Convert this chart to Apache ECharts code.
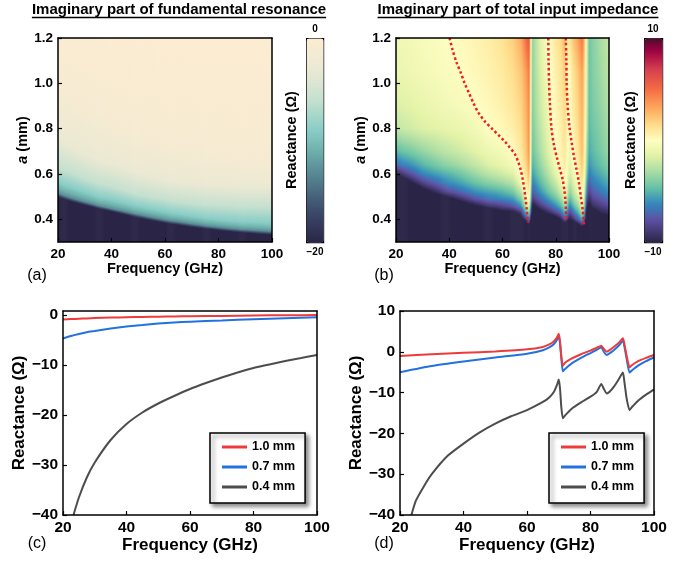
<!DOCTYPE html>
<html><head><meta charset="utf-8">
<script src="https://cdn.jsdelivr.net/npm/echarts@6/dist/echarts.min.js"></script>
<style>html,body{margin:0;padding:0;background:#fff}#c{width:694px;height:566px}</style>
</head><body><div id="c"></div>
<script>
// ================= DATA =================
// (a) Imaginary part of fundamental resonance, read as contour lines:
// value at the top edge (a = 1.2 mm) and the a (mm) where each reactance level is reached, per frequency
const fundFreq = [20,25,30,35,40,45,50,55,60,65,70,75,80,85,90,95,100];
const fundTop  = [-0.5,-0.42,-0.35,-0.3,-0.25,-0.2,-0.15,-0.1,-0.07,-0.05,-0.03,-0.02,0,0,0,0,0];
const fundLevels = [-1,-3,-6,-9,-11,-13,-20];
const fundLevelA = [
 [1.0,0.95,0.91,0.87,0.83,0.8,0.78,0.76,0.74,0.725,0.71,0.7,0.69,0.68,0.665,0.655,0.645],
 [0.76,0.72,0.69,0.665,0.645,0.625,0.605,0.59,0.575,0.565,0.56,0.555,0.55,0.548,0.545,0.543,0.54],
 [0.632,0.605,0.58,0.56,0.545,0.525,0.51,0.498,0.488,0.478,0.47,0.465,0.46,0.458,0.456,0.455,0.455],
 [0.565,0.54,0.52,0.5,0.487,0.472,0.458,0.445,0.434,0.423,0.414,0.405,0.398,0.393,0.389,0.386,0.383],
 [0.535,0.513,0.494,0.477,0.463,0.449,0.436,0.424,0.413,0.403,0.394,0.386,0.379,0.373,0.368,0.364,0.36],
 [0.515,0.494,0.477,0.461,0.447,0.434,0.421,0.409,0.398,0.389,0.38,0.372,0.365,0.359,0.354,0.35,0.346],
 [0.497,0.478,0.462,0.447,0.434,0.42,0.406,0.394,0.383,0.374,0.365,0.358,0.351,0.345,0.34,0.335,0.331]
];

// (b) Imaginary part of total input impedance: one column per frequency, values at totalA rows
const totalFreq = [20,25,30,35,40,45,50,55,60,64,67,69,70,70.6,71.2,72,74,77,80,82,83.5,84.3,85.2,86.5,88.5,90,90.8,91.6,92.5,94,97,100];
const totalA = [1.2,1.05,0.9,0.8,0.7,0.64,0.6,0.56,0.52,0.49,0.46,0.43,0.40,0.37,0.34,0.30];
const totalX = [
 [-0.8,-1.1,-1.7,-2.4,-4.9,-7.0,-10.0,-13,-17,-21,-25,-30,-40,-50,-60,-70],
 [-0.6,-0.85,-1.4,-2.0,-4.2,-6.0,-8.0,-10.5,-14,-17,-21,-25,-36,-44,-52,-62],
 [-0.4,-0.6,-1.1,-1.6,-3.5,-5.0,-6.3,-8.5,-11,-14,-17,-21,-30,-36,-45,-55],
 [-0.2,-0.4,-0.85,-1.4,-2.9,-4.2,-5.6,-7.2,-9.5,-12,-15,-19,-25.5,-32,-40,-50],
 [0.0,-0.2,-0.6,-1.2,-2.4,-3.6,-5.0,-6.1,-8.0,-10.5,-13,-17,-22.5,-28,-35,-45],
 [0.2,0.0,-0.4,-0.95,-1.9,-3.0,-4.2,-5.4,-7.0,-9.0,-11.5,-15,-20,-25,-31,-40],
 [0.45,0.25,-0.05,-0.6,-1.4,-2.3,-3.3,-4.5,-6.0,-7.6,-10,-13,-17.5,-22,-27,-35],
 [0.75,0.55,0.25,-0.05,-0.9,-1.6,-2.6,-3.9,-5.6,-6.8,-9.0,-11.8,-15.8,-20,-25,-32],
 [1.2,0.9,0.6,0.25,-0.5,-1.1,-2.0,-3.3,-5.0,-6.2,-8.2,-10.5,-14.3,-18,-22,-28],
 [2.0,1.5,1.1,0.7,0.1,-0.6,-1.5,-2.7,-4.3,-5.8,-7.5,-10.5,-12.6,-16,-20,-26],
 [3.2,2.3,1.8,1.4,1.0,0.5,0.0,-1.0,-2.5,-4.0,-6.0,-9.0,-11,-14,-18,-24],
 [5.2,3.6,3.0,2.7,2.3,1.8,1.3,0.7,0.2,-0.5,-2.0,-4.5,-8.5,-12,-16,-22],
 [6.0,4.8,4.3,4.1,3.9,3.4,2.8,2.0,1.0,0.0,-1.5,-3.5,-6.7,-11,-15,-21],
 [1.0,0.3,0.0,-0.2,-0.5,-0.8,-1.2,-1.8,-2.6,-3.5,-5.0,-7.0,-10,-13,-17,-23],
 [-3.8,-3.9,-4.1,-4.3,-4.7,-5.2,-5.8,-6.6,-7.6,-8.8,-10.5,-12.5,-16.3,-20,-24,-30],
 [-3.0,-3.1,-3.3,-3.6,-4.0,-4.6,-5.2,-6.0,-7.0,-8.2,-10.0,-12,-15.8,-19.5,-23.5,-29],
 [-1.6,-1.8,-2.1,-2.5,-3.0,-3.6,-4.2,-5.0,-6.0,-7.2,-8.8,-10.8,-14.2,-18,-22,-28],
 [-0.1,-0.5,-0.9,-1.2,-1.6,-2.2,-2.8,-3.6,-4.6,-5.8,-7.4,-9.6,-12.6,-16.5,-20.5,-26],
 [1.0,0.6,0.35,0.15,-0.2,-0.7,-1.3,-2.2,-3.3,-4.5,-6.0,-8.2,-11.2,-15,-19,-25],
 [1.6,1.2,0.9,0.7,0.5,0.2,-0.1,-0.9,-2.0,-3.2,-4.8,-7.0,-9.8,-13.5,-17.5,-23],
 [3.0,2.0,1.6,1.4,1.1,0.9,0.6,0.1,-0.6,-1.6,-3.0,-5.0,-7.9,-11.5,-15.5,-21],
 [0.3,0.4,0.5,0.5,0.2,-0.1,-0.5,-1.0,-1.8,-2.8,-4.2,-6.2,-9.0,-12.5,-16.5,-22],
 [1.2,0.1,-0.1,-0.3,-0.8,-1.3,-1.9,-2.7,-3.7,-4.9,-6.4,-8.2,-10.2,-14,-18,-24],
 [2.2,1.2,0.9,0.5,0.0,-0.5,-1.0,-1.7,-2.6,-3.6,-5.0,-7.0,-9.3,-13,-17,-23],
 [3.5,2.3,1.9,1.6,1.3,0.8,0.3,-0.1,-0.9,-1.9,-3.2,-5.0,-7.3,-11,-15,-21],
 [4.8,3.5,3.0,2.8,2.6,2.2,1.8,1.2,0.6,0.0,-0.8,-2.5,-5.3,-9.5,-14,-20],
 [2.5,1.6,1.3,1.0,0.6,0.2,-0.2,-0.8,-1.5,-2.3,-3.3,-5.0,-8.0,-11.5,-15.5,-21],
 [-1.2,-1.4,-1.7,-2.2,-3.0,-3.6,-4.3,-5.2,-6.4,-7.8,-9.5,-11.5,-12,-16,-20,-26],
 [-4.4,-4.5,-4.7,-4.9,-5.3,-5.9,-6.6,-7.5,-8.5,-9.5,-10.5,-12,-14.3,-18,-22,-28],
 [-3.8,-3.9,-4.1,-4.4,-4.8,-5.3,-5.9,-6.6,-7.4,-8.2,-9.3,-10.8,-12.8,-16,-20,-26],
 [-3.0,-3.2,-3.5,-3.8,-4.1,-4.6,-5.2,-5.9,-6.7,-7.6,-8.6,-9.8,-11.5,-14,-18,-24],
 [-2.3,-2.5,-2.8,-3.1,-3.4,-3.9,-4.5,-5.2,-6.0,-6.9,-8.0,-9.3,-10.5,-13,-17,-23]
];

// (b) red dotted resonance tracks [GHz, mm]
const track1 = [[40.1,1.2],[41.2,1.15],[42.8,1.09],[44.4,1.045],[45.8,1.0],[47.5,0.955],[49.2,0.91],[51,0.87],[53.5,0.83],[56.3,0.797],[58.8,0.768],[61,0.742],[62.5,0.72],[64.7,0.687],[66,0.65],[66.8,0.62],[67.6,0.576],[68.2,0.532],[68.7,0.488],[69.1,0.444],[69.4,0.408],[69.6,0.385]];
const track2 = [[77.2,1.2],[77.3,1.1],[77.5,1.0],[77.8,0.915],[78.4,0.8],[79.4,0.724],[80.6,0.665],[81.6,0.62],[82.6,0.576],[83.2,0.532],[83.6,0.488],[83.8,0.444],[83.9,0.39]];
const track3 = [[83.8,1.2],[84.0,1.1],[84.1,1.0],[84.4,0.915],[85.1,0.812],[86,0.738],[86.8,0.679],[87.8,0.62],[88.7,0.562],[89.4,0.503],[90.1,0.444],[90.4,0.4],[90.7,0.372]];

// (c) fundamental resonance reactance vs frequency
const cFreq = [20,22.5,25,27.5,30,35,40,45,50,55,60,70,80,90,100];
const cRed  = [-0.9,-0.82,-0.75,-0.68,-0.62,-0.52,-0.45,-0.39,-0.33,-0.29,-0.25,-0.18,-0.1,-0.05,0.0];
const cBlue = [-4.7,-4.2,-3.8,-3.45,-3.2,-2.7,-2.3,-2.0,-1.7,-1.5,-1.35,-1.1,-0.85,-0.65,-0.47];
const cGrayFreq = [23.3,25,27.5,30,35,40,45,50,55,60,65,70,75,80,85,90,95,100];
const cGray = [-40,-36.5,-32.5,-29.5,-25,-21.8,-19.5,-17.7,-16.2,-14.8,-13.6,-12.5,-11.5,-10.6,-9.9,-9.2,-8.6,-8.0];

// (d) total input reactance vs frequency
const dFreq = [20,30,40,50,60,65,67,68.5,69.5,70,70.4,70.8,71.3,72,74,77,80,82,83.4,84.2,85.1,86,87.5,89,90.2,90.7,91.4,92.3,93,95,97.5,100];
const dRed  = [-1.0,-0.6,-0.25,0.1,0.6,1.2,1.8,2.6,3.6,4.4,2.5,-1.0,-3.4,-2.7,-1.7,-0.6,0.3,1.0,1.5,0.7,0.0,0.4,1.3,2.3,3.3,1.8,-1.0,-3.8,-3.3,-2.3,-1.5,-0.8];
const dBlue = [-5.0,-3.5,-2.4,-1.4,-0.5,0.4,1.1,1.9,3.0,3.9,2.0,-1.5,-4.8,-4.2,-2.9,-1.5,-0.3,0.5,1.1,0.0,-0.8,-0.4,0.5,1.6,2.7,1.2,-1.8,-5.1,-4.6,-3.4,-2.3,-1.4];
const dGrayFreq = [23.6,25,27.5,30,35,40,45,50,55,60,65,67,68.5,69.5,70,70.4,70.8,71.3,72,74,77,80,82,83.4,84.2,85.1,86,87.5,89,90.2,90.7,91.4,92.3,93,95,97.5,100];
const dGray = [-40,-36.5,-33,-30,-25.5,-22.5,-19.8,-17.6,-15.8,-14.3,-12.3,-11.2,-9.8,-8.0,-6.8,-9.0,-13.5,-16.3,-15.6,-14.0,-12.4,-11.0,-9.8,-7.9,-9.1,-10.2,-9.8,-8.4,-6.6,-5.1,-7.5,-11.5,-14.3,-13.6,-12.0,-10.5,-9.2];

const seriesNames = ['1.0 mm','0.7 mm','0.4 mm'];
const aTicks = [0.4,0.6,0.8,1.0,1.2];
const cTicks = [-40,-30,-20,-10,0];
const dTicks = [-40,-30,-20,-10,0,10];

// ================= STYLE =================
const FF = '"Liberation Sans", Arial, Helvetica, sans-serif';
const cmapFund = [[-20,'#2a2547'],[-17.4,'#394466'],[-15,'#4a6a80'],[-13,'#5a8c96'],[-11,'#6eb0ab'],[-9,'#88cdc6'],[-6,'#c6e0cf'],[-3,'#ebe9d3'],[0,'#fcecd2']];
const cmapTotal = [[-10,'#2a2446'],[-7.8,'#5e4fa2'],[-6.2,'#3288bd'],[-4.6,'#66c2a5'],[-3,'#abdda4'],[-1.4,'#e4f3a8'],[0,'#fefdc2'],[1.4,'#fee08d'],[3,'#fdae61'],[5,'#f46d43'],[7,'#d53e4f'],[8.8,'#9e0142'],[10,'#4f0a2e']];
const RED = '#ee3a3a', BLUE = '#2271e0', GRAY = '#4d4d4d';

function hex2rgb(h){return [parseInt(h.slice(1,3),16),parseInt(h.slice(3,5),16),parseInt(h.slice(5,7),16)];}
function cmapColor(cm,v){
  if(v<=cm[0][0]) return cm[0][1];
  if(v>=cm[cm.length-1][0]) return cm[cm.length-1][1];
  for(let k=0;k<cm.length-1;k++){
    const v0=cm[k][0], v1=cm[k+1][0];
    if(v>=v0 && v<=v1){
      const t=(v-v0)/(v1-v0), a=hex2rgb(cm[k][1]), b=hex2rgb(cm[k+1][1]);
      return 'rgb('+a.map((x,i)=>Math.round(x+(b[i]-x)*t)).join(',')+')';
    }
  }
}
function sampleCmap(cm,n){const lo=cm[0][0],hi=cm[cm.length-1][0];const out=[];for(let i=0;i<n;i++){out.push(cmapColor(cm,lo+(hi-lo)*i/(n-1)));}return out;}
// gradient stops of one vertical profile [[a, value], ...] (top first), painted through the colormap
function profileStops(cm,prof,top,bot){
  const off=a=>(top-a)/(top-bot);
  const st=[];
  for(let j=0;j<prof.length;j++){
    const a=prof[j][0], v=prof[j][1];
    st.push({offset:off(a), color:cmapColor(cm,v)});
    if(j<prof.length-1){
      const a1=prof[j+1][0], v1=prof[j+1][1];
      cm.forEach(([k])=>{ if((k-v)*(k-v1)<0){ const t=(k-v)/(v1-v); st.push({offset:off(a+t*(a1-a)), color:cmapColor(cm,k)}); } });
    }
  }
  st.forEach(s=>{s.offset=Math.min(1,Math.max(0,s.offset));});
  st.sort((p,q)=>p.offset-q.offset);
  return st;
}
function heatSeries(freq,profiles,cm,axisIdx,top,bot){
  return {
    type:'custom', xAxisIndex:axisIdx, yAxisIndex:axisIdx, clip:true, silent:true, z:1,
    data:freq.slice(0,-1).map((f,i)=>[f,bot,i]), encode:{x:0,y:1},
    renderItem:(params,api)=>{
      const i=api.value(2);
      const p0=api.coord([freq[i],top]), p1=api.coord([freq[i+1],bot]);
      const w=p1[0]-p0[0], n=Math.max(1,Math.round(w));
      const A=profiles[i], B=profiles[i+1];
      const children=[];
      for(let k=0;k<n;k++){
        const t=(k+0.5)/n;
        const prof=A.map((pt,j)=>[pt[0]+(B[j][0]-pt[0])*t, pt[1]+(B[j][1]-pt[1])*t]);
        const xa=p0[0]+w*k/n, xb=p0[0]+w*(k+1)/n;
        children.push({type:'rect', shape:{x:xa,y:p0[1],width:xb-xa+0.7,height:p1[1]-p0[1]},
          style:{fill:new echarts.graphic.LinearGradient(0,0,0,1,profileStops(cm,prof,top,bot)), stroke:null}});
      }
      return {type:'group', children:children};
    }
  };
}
const fundProfiles = fundFreq.map((f,i)=>[[1.2,fundTop[i]]].concat(fundLevels.map((L,k)=>[fundLevelA[k][i],L]), [[0.3,-20]]));
const totalProfiles = totalFreq.map((f,i)=>totalA.map((a,j)=>[a,totalX[i][j]]));

function pairs(xs,ys){return xs.map((x,i)=>[x,ys[i]]);}
const minus = v => (v<0?'\u2212':'') + Math.abs(v);

const lineAxis = {show:true, onZero:false, lineStyle:{color:'#000', width:1.5}};
const tickStyle = {show:true, inside:true, length:4, lineStyle:{color:'#000', width:1.2}};
function mkX(grid, big){
  return [
    {gridIndex:grid, type:'value', min:20, max:100, interval:20, position:'bottom', z:5,
     axisLine:lineAxis, axisTick:tickStyle, splitLine:{show:false},
     axisLabel:{color:'#000', fontFamily:FF, fontWeight:'bold', fontSize:big?15.5:13.5, margin:5},
     name:'Frequency (GHz)', nameLocation:'middle', nameGap:big?22:17,
     nameTextStyle:{color:'#000', fontFamily:FF, fontWeight:'bold', fontSize:big?17:14.5}},
    {gridIndex:grid, type:'value', min:20, max:100, position:'top', z:5,
     axisLine:lineAxis, axisTick:{show:false}, axisLabel:{show:false}, splitLine:{show:false}}
  ];
}
function mkY(grid, min, max, ticks, big, fmt, name, gap){
  return [
    {gridIndex:grid, type:'value', min:min, max:max, position:'left', z:5,
     axisLine:lineAxis, axisTick:Object.assign({customValues:ticks}, tickStyle), splitLine:{show:false},
     axisLabel:{customValues:ticks, formatter:fmt, color:'#000', fontFamily:FF, fontWeight:'bold', fontSize:big?15.5:13.5, margin:5},
     name:name, nameLocation:'middle', nameGap:gap,
     nameTextStyle:{color:'#000', fontFamily:FF, fontWeight:'bold', fontSize:big?17:14.5,
       rich:{i:{fontStyle:'italic', fontWeight:'bold', fontFamily:FF, fontSize:14.5, color:'#000'}}}},
    {gridIndex:grid, type:'value', min:min, max:max, position:'right', z:5,
     axisLine:lineAxis, axisTick:{show:false}, axisLabel:{show:false}, splitLine:{show:false}}
  ];
}
function lineS(name,data,color,axisIdx){
  return {type:'line', name:name, data:data, xAxisIndex:axisIdx, yAxisIndex:axisIdx, smooth:0.2,
    symbol:'none', showSymbol:false, clip:true, z:3, lineStyle:{color:color, width:2}, itemStyle:{color:color}};
}
function dotted(data){
  return {type:'line', data:data, xAxisIndex:2, yAxisIndex:2, smooth:0.3, symbol:'none', clip:true, z:4,
    lineStyle:{color:'#f21d1d', width:2.5, type:'dotted', cap:'butt'}, silent:true};
}
function legendAt(left){
  return {left:left, top:433, orient:'vertical', data:seriesNames, icon:'rect', itemWidth:25, itemHeight:3, itemGap:6,
    padding:[7,10,9,12], backgroundColor:'#fff', borderColor:'#000', borderWidth:1.5, borderRadius:0,
    shadowBlur:4, shadowColor:'rgba(0,0,0,0.45)', shadowOffsetX:3, shadowOffsetY:3, selectedMode:false,
    textStyle:{color:'#000', fontFamily:FF, fontWeight:'bold', fontSize:12.5, lineHeight:14}};
}

// titles with underline
const ctx=document.createElement('canvas').getContext('2d');
const titleFont='bold 15px "Liberation Sans"';
ctx.font=titleFont;
function titleEls(text,cx){
  const w=ctx.measureText(text).width;
  return [
    {type:'text', x:cx, y:10, style:{text:text, font:titleFont, fill:'#000', align:'center', verticalAlign:'middle'}},
    {type:'line', shape:{x1:cx-w/2, y1:17.5, x2:cx+w/2, y2:17.5}, style:{stroke:'#000', lineWidth:1.3}}
  ];
}
function txt(t,x,y,font,rot){
  return {type:'text', x:x, y:y, rotation:rot||0, style:{text:t, font:font, fill:'#000', align:'center', verticalAlign:'middle'}};
}

const chart=echarts.init(document.getElementById('c'),null,{renderer:'canvas'});
const option={
  animation:false,
  backgroundColor:'#fff',
  grid:[
    {left:58, top:38, width:214, height:204},
    {left:396, top:38, width:213, height:204},
    {left:63, top:311, width:254, height:204},
    {left:400, top:311, width:254, height:204}
  ],
  xAxis:[].concat(mkX(0,false), mkX(1,false), mkX(2,true), mkX(3,true)),
  yAxis:[].concat(
    mkY(0,0.3,1.2,aTicks,false,v=>v.toFixed(1),'{i|a} (mm)',25),
    mkY(1,0.3,1.2,aTicks,false,v=>v.toFixed(1),'{i|a} (mm)',25),
    mkY(2,-40,0.8,cTicks,true,minus,'Reactance (\u03a9)',34),
    mkY(3,-40,10,dTicks,true,minus,'Reactance (\u03a9)',33)
  ),
  visualMap:[
    {type:'continuous', min:-20, max:0, seriesIndex:[], orient:'vertical', left:306, top:38, itemWidth:17, itemHeight:204,
     calculable:false, hoverLink:false, padding:0, borderColor:'#000', borderWidth:1.2, inRange:{color:sampleCmap(cmapFund,41)}},
    {type:'continuous', min:-10, max:10, seriesIndex:[], orient:'vertical', left:644, top:38, itemWidth:18, itemHeight:204,
     calculable:false, hoverLink:false, padding:0, borderColor:'#000', borderWidth:1.2, inRange:{color:sampleCmap(cmapTotal,61)}}
  ],
  legend:[legendAt(210), legendAt(549)],
  series:[
    heatSeries(fundFreq,fundProfiles,cmapFund,0,1.2,0.3),
    heatSeries(totalFreq,totalProfiles,cmapTotal,2,1.2,0.3),
    dotted(track1), dotted(track2), dotted(track3),
    lineS(seriesNames[2],pairs(cGrayFreq,cGray),GRAY,4),
    lineS(seriesNames[1],pairs(cFreq,cBlue),BLUE,4),
    lineS(seriesNames[0],pairs(cFreq,cRed),RED,4),
    lineS(seriesNames[2],pairs(dGrayFreq,dGray),GRAY,6),
    lineS(seriesNames[1],pairs(dFreq,dBlue),BLUE,6),
    lineS(seriesNames[0],pairs(dFreq,dRed),RED,6)
  ],
  graphic:[].concat(
    titleEls('Imaginary part of fundamental resonance',179),
    titleEls('Imaginary part of total input impedance',518),
    [
      txt('(a)',37,276,'16px "Liberation Sans"'),
      txt('(b)',384,276,'16px "Liberation Sans"'),
      txt('(c)',37,544,'16px "Liberation Sans"'),
      txt('(d)',384,544,'16px "Liberation Sans"'),
      txt('Reactance (\u03a9)',292,140,'bold 14.5px "Liberation Sans"',Math.PI/2),
      txt('Reactance (\u03a9)',631,140,'bold 14.5px "Liberation Sans"',Math.PI/2),
      txt('0',315,29,'bold 10px "Liberation Sans"'),
      txt('\u221220',315,252,'bold 10px "Liberation Sans"'),
      txt('10',653,29,'bold 10px "Liberation Sans"'),
      txt('\u221210',653,252,'bold 10px "Liberation Sans"')
    ]
  )
};
chart.setOption(option);
</script></body></html>
